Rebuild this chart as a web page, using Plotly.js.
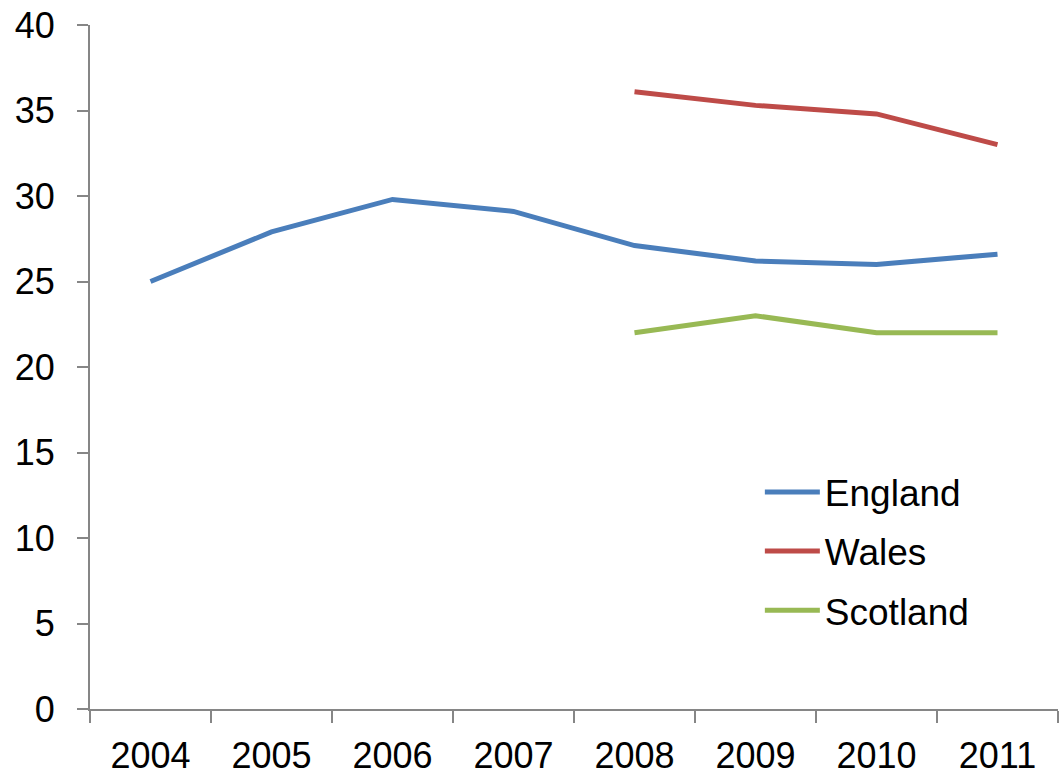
<!DOCTYPE html>
<html>
<head>
<meta charset="utf-8">
<script src="https://cdn.plot.ly/plotly-3.0.1.min.js"></script>
<style>
  html, body { margin: 0; padding: 0; background: #ffffff; }
  #chart { width: 1060px; height: 775px; }
</style>
</head>
<body>
<div id="chart"></div>
<script>
// Years on the category axis
const years = ['2004', '2005', '2006', '2007', '2008', '2009', '2010', '2011'];

// Series values per year (null where no figure exists)
const england = [25.0, 27.9, 29.8, 29.1, 27.1, 26.2, 26.0, 26.6];
const wales = [null, null, null, null, 36.1, 35.3, 34.8, 33.0];
const scotland = [null, null, null, null, 22.0, 23.0, 22.0, 22.0];

// Value axis ticks
const yTicks = [0, 5, 10, 15, 20, 25, 30, 35, 40];

const fontFamily = '"Liberation Sans", Arial, sans-serif';
const axisGrey = '#868686';

function series(name, values, color, group) {
  return {
    type: 'scatter',
    mode: 'lines',
    name: name,
    x: years,
    y: values,
    legendgroup: group,
    line: { color: color, width: 5 },
    connectgaps: false,
    hoverinfo: 'x+y+name'
  };
}

const data = [
  series('England', england, '#4A7EBB', 'g1'),
  series('Wales', wales, '#BE4B48', 'g2'),
  series('Scotland', scotland, '#98B954', 'g3')
];

const layout = {
  width: 1060,
  height: 775,
  margin: { l: 90, r: 2, t: 25, b: 66 },
  paper_bgcolor: '#ffffff',
  plot_bgcolor: '#ffffff',
  font: { family: fontFamily, size: 36, color: '#000000' },
  showlegend: true,
  legend: {
    x: 0.692,
    y: 0.362,
    xanchor: 'left',
    yanchor: 'top',
    bgcolor: 'rgba(0,0,0,0)',
    font: { family: fontFamily, size: 37, color: '#000000' },
    tracegroupgap: 8,
    itemwidth: 55
  },
  xaxis: {
    type: 'category',
    categoryorder: 'array',
    categoryarray: years,
    range: [-0.5, 7.5],
    showgrid: false,
    zeroline: false,
    showline: true,
    linecolor: axisGrey,
    linewidth: 2,
    ticks: 'outside',
    tickson: 'boundaries',
    ticklen: 12,
    tickwidth: 2,
    tickcolor: axisGrey,
    ticklabelstandoff: 14,
    tickfont: { family: fontFamily, size: 36, color: '#000000' },
    fixedrange: true
  },
  yaxis: {
    range: [0, 40],
    tickvals: yTicks,
    ticktext: yTicks.map(String),
    showgrid: false,
    zeroline: false,
    showline: true,
    linecolor: axisGrey,
    linewidth: 2,
    ticks: 'outside',
    ticklen: 11,
    tickwidth: 2,
    tickcolor: axisGrey,
    ticklabelstandoff: 15,
    tickfont: { family: fontFamily, size: 36, color: '#000000' },
    fixedrange: true
  }
};

Plotly.newPlot('chart', data, layout, { displayModeBar: false, staticPlot: true });
</script>
</body>
</html>
